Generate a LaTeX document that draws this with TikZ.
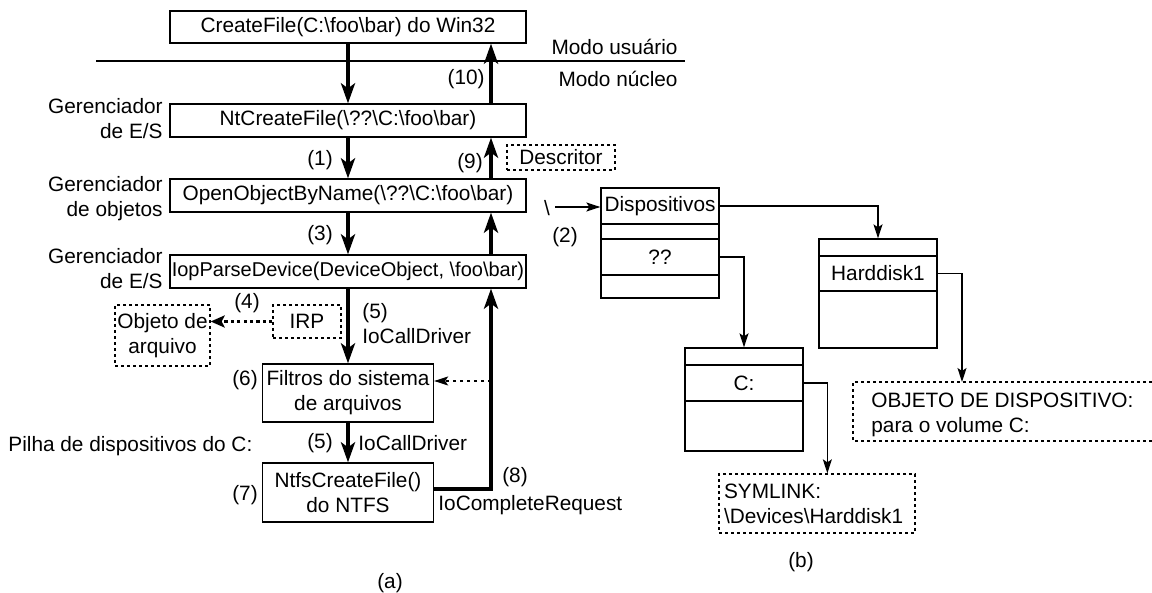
\documentclass[tikz,border=0pt]{standalone}
\usepackage{fontspec}
\setmainfont{Liberation Sans}
\usetikzlibrary{arrows.meta,calc}

\begin{document}
\begin{tikzpicture}[x=0.5pt,y=-0.5pt,>={Stealth[length=7pt,width=4.5pt,inset=1.5pt]},
 font=\fontsize{10.4pt}{12.5pt}\selectfont,
 every node/.style={inner sep=0pt},
 box/.style={draw,line width=0.65pt,minimum width=178pt,minimum height=16.5pt},
 sbox/.style={draw,line width=0.65pt,minimum width=85.5pt,minimum height=29.5pt,align=center},
 dbox/.style={draw,line width=0.65pt,dash pattern=on 1.5pt off 1.5pt},
 row/.style={draw,line width=0.65pt,minimum width=59pt},
 lab/.style={align=right,anchor=east},
 big/.style={line width=2pt,line join=miter,-{Stealth[length=10pt,width=7pt,inset=2.5pt]}},
 thin/.style={line width=0.65pt,->},
 dots/.style={line width=0.65pt,dash pattern=on 1.5pt off 2pt,->},
 bigdots/.style={line width=1.6pt,dash pattern=on 1.6pt off 1.6pt,-{Stealth[length=7pt,width=6pt,inset=1.5pt]}}]
\useasboundingbox (0,0) rectangle (1152,593);
% (a) caminho do CreateFile
\node[box,minimum height=16pt] (w32) at (348,27) {CreateFile(C:\textbackslash foo\textbackslash bar) do Win32};
\coordinate (ml) at (96,61);
\coordinate (mr) at (685,61);
\draw[line width=0.65pt] (ml) -- (mr);
\node[anchor=east] (usr) at (678,47) {Modo usuário};
\node[anchor=east] (nuc) at (678,79) {Modo núcleo};
\node[box] (ntc) at (348,120.5) {NtCreateFile(\textbackslash ??\textbackslash C:\textbackslash foo\textbackslash bar)};
\node[box] (oobn) at (348,195.5) {OpenObjectByName(\textbackslash ??\textbackslash C:\textbackslash foo\textbackslash bar)};
\node[box,font=\fontsize{10pt}{12pt}\selectfont] (iop) at (348,271.5) {IopParseDevice(DeviceObject, \textbackslash foo\textbackslash bar)};
\node[sbox,minimum height=29pt] (filt) at (348,393) {Filtros do sistema\\de arquivos};
\node[sbox] (ntfs) at (348,492.5) {NtfsCreateFile()\\do NTFS};
\node[lab] (g1) at (163,119) {Gerenciador\\de E/S};
\node[lab] (g2) at (163,199) {Gerenciador\\de objetos};
\node[lab] (g3) at (163,269) {Gerenciador\\de E/S};
\node[dbox,minimum width=54pt,minimum height=12.5pt] (desc) at (561,157.5) {Descritor};
\node[dbox,minimum width=34pt,minimum height=16.5pt] (irp) at (307,321.5) {IRP};
\node[dbox,minimum width=47.5pt,minimum height=30.5pt,align=center] (obj) at (162.5,335.5) {Objeto de\\arquivo};
\coordinate (rx) at (491,0);
\draw[big] (w32) -- (ntc);
\draw[big] (ntc.north -| rx) -- (w32.south -| rx);
\draw[big] (ntc) -- (oobn);
\draw[big] (oobn.north -| rx) -- (ntc.south -| rx);
\draw[big] (oobn) -- (iop);
\draw[big] (iop.north -| rx) -- (oobn.south -| rx);
\draw[big] (iop) -- (filt);
\draw[big] (filt) -- (ntfs);
\draw[big] ($(ntfs.east)+(0,-3.5)$) -| (iop.south -| rx);
\draw[dots] ($(filt.east -| rx)+(0,-12)$) -- ($(filt.east)+(0,-12)$);
\draw[bigdots] (irp) -- (irp -| obj.east);
\node[anchor=east] (n10) at (485,79) {(10)};
\node (n1) at (320,160) {(1)};
\node (n9) at (470,163) {(9)};
\node (n3) at (320,235) {(3)};
\node (n4) at (247,303) {(4)};
\node[anchor=west,align=left] (n5a) at (362,324) {(5)\\IoCallDriver};
\node (n6) at (245,380) {(6)};
\node (n5b) at (320,443) {(5)};
\node[anchor=west] (icd) at (358,443) {IoCallDriver};
\node (n7) at (245,495) {(7)};
\node (n8) at (515,477) {(8)};
\node[anchor=west] (icr) at (438,505) {IoCompleteRequest};
\node[anchor=west] (pilha) at (8,446) {Pilha de dispositivos do C:};
\node (cap-a) at (390,583) {(a)};
% (b) espaco de nomes
\node (bs) at (547,208) {\textbackslash};
\node (n2) at (565,237) {(2)};
\node[row,minimum height=18pt] (dA) at (660,206) {Dispositivos};
\node[row,minimum height=7.5pt] (dB) at (660,231.5) {};
\node[row,minimum height=18pt] (dC) at (660,257) {??};
\node[row,minimum height=11.5pt] (dD) at (660,286.5) {};
\node[row,minimum height=8.5pt] (hA) at (878,247.5) {};
\node[row,minimum height=17.5pt] (hB) at (878,273.5) {Harddisk1};
\node[row,minimum height=28.5pt] (hC) at (878,319.5) {};
\node[row,minimum height=8.5pt] (cA) at (744,356.5) {};
\node[row,minimum height=18pt] (cB) at (744,383) {C:};
\node[row,minimum height=25pt] (cC) at (744,426) {};
\node[dbox,minimum width=98pt,minimum height=29.5pt,text width=93pt,align=left] (sym) at (817,503.5) {SYMLINK:\\\textbackslash Devices\textbackslash Harddisk1};
\node[anchor=west,align=left] (dev) at (871,415) {OBJETO DE DISPOSITIVO:\\para o volume C:};
\draw[dbox] (1152,382) -- (853,382) -- (853,441) -- (1152,441);
\node (cap-b) at (801,562) {(b)};
\coordinate (bsa) at (555,207);
\coordinate (devin) at (962,382);
\coordinate (symin) at ($(sym.north west)+(109,0)$);
\draw[thin] (bsa) -- (bsa -| dA.west);
\draw[thin] (dA) -| (hA);
\draw[thin] (dC) -| (cA);
\draw[thin] (hB) -| (devin);
\draw[thin] (cB) -| (symin);
\end{tikzpicture}
\end{document}
